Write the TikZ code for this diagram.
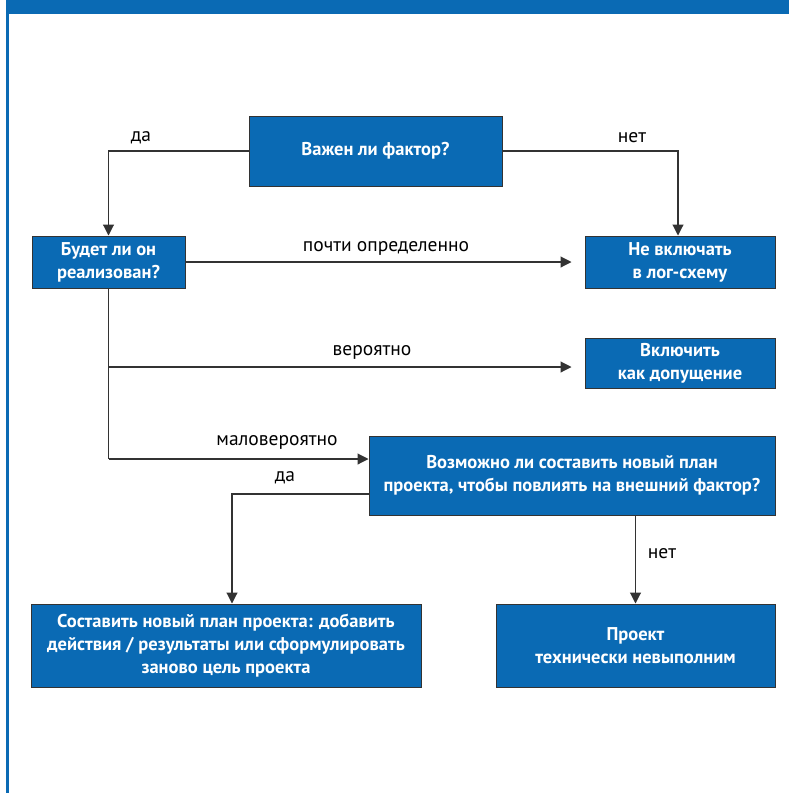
\documentclass[tikz,border=0pt]{standalone}
\usepackage{fontspec}
\setmainfont{PT Sans}
\usetikzlibrary{arrows.meta,calc}
\definecolor{boxblue}{HTML}{0A6AB4}
\definecolor{linegray}{HTML}{333333}
\begin{document}
\begin{tikzpicture}[x=1pt,y=-1pt,
  box/.style={draw=linegray, line width=1pt, fill=boxblue, text=white, align=center,
    font=\fontsize{18.5}{23}\selectfont\bfseries, inner sep=0pt},
  conn/.style={draw=linegray, line width=1.1pt},
  arr/.style={conn, -{Triangle[length=11pt,width=11pt]}},
  lbl/.style={font=\fontsize{19.5}{22}\selectfont, text=black, inner sep=0pt}]
\useasboundingbox (0,0) rectangle (789,793);
% frame
\fill[boxblue] (6,0) rectangle (789,14);
\fill[boxblue] (6,14) rectangle (8.5,793);
% boxes
\node[box, minimum width=253pt, minimum height=70pt] (A) at (375.5,151) {Важен ли фактор?};
\node[box, minimum width=153pt, minimum height=52pt] (B) at (108.5,262) {Будет ли он\\реализован?};
\node[box, minimum width=190pt, minimum height=52pt] (C) at (680,262) {Не включать\\в лог-схему};
\node[box, minimum width=190pt, minimum height=50pt] (D) at (680,363) {Включить\\как допущение};
\node[box, minimum width=406pt, minimum height=79pt] (E) at (572,475.5) {Возможно ли составить новый план\\проекта, чтобы повлиять на внешний фактор?};
\node[box, minimum width=390pt, minimum height=83pt] (F) at (226,645.5) {Составить новый план проекта: добавить\\действия / результаты или сформулировать\\заново цель проекта};
\node[box, minimum width=279pt, minimum height=83pt] (G) at (635.5,645.5) {Проект\\технически невыполним};
% helper coordinates
\coordinate (yB) at (0,367);
\coordinate (yE) at (0,459);
\coordinate (yF) at (0,494);
\coordinate (xF) at (232,0);
\coordinate (xC) at (678,0);
% connectors
\draw[arr] (A.west) -| (B.north);
\draw[arr] (A.east) -| (xC |- C.north);
\draw[arr, shorten >=13pt] (B.east) -- (C.west);
\draw[conn] (B.south) -- (B.south |- yE);
\draw[arr, shorten >=13pt] (B.south |- yB) -- (D.west |- yB);
\draw[arr] (B.south |- yE) -- (E.west |- yE);
\draw[arr] (E.west |- yF) -| (xF |- F.north);
\draw[arr] (E.south -| G.north) -- (G.north);
% labels
\node[lbl] (l1) at (141,138) {да};
\node[lbl] (l2) at (632,138) {нет};
\node[lbl] (l3) at (386,248) {почти определенно};
\node[lbl] (l4) at (372,352) {вероятно};
\node[lbl] (l5) at (277,442) {маловероятно};
\node[lbl] (l6) at (285,478) {да};
\node[lbl] (l7) at (662,554) {нет};
\end{tikzpicture}
\end{document}
